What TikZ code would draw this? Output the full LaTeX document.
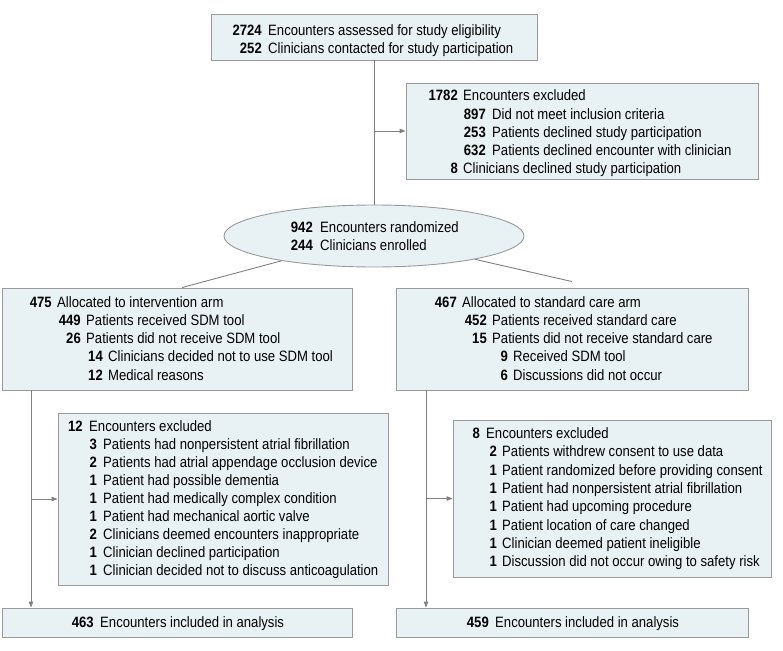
\documentclass[tikz,border=0pt]{standalone}
\usepackage{fontspec}
\setmainfont{Liberation Sans}[FakeStretch=0.875]
\usetikzlibrary{arrows.meta,shapes.geometric}
\definecolor{boxfill}{HTML}{E8F2F4}
\definecolor{boxline}{HTML}{9A9A9A}
\definecolor{connc}{HTML}{808080}
\tikzset{
  boxst/.style={draw=boxline,fill=boxfill,line width=0.9pt,inner sep=0pt},
  num/.style={font=\fontsize{15}{17}\selectfont\bfseries,inner sep=0pt,anchor=base east},
  txt/.style={font=\fontsize{15}{17}\selectfont,inner sep=0pt,anchor=base west},
  conn/.style={draw=connc,line width=0.9pt},
  arr/.style={conn,-{Triangle[length=6pt,width=4.5pt]}},
}
\newcommand\itm[6]{\node[num] (#1n) at (#2,#4) {#5}; \node[txt] (#1t) at (#3,#4) {#6};}
\newcommand\bx[5]{\node[boxst,minimum width={(#4-#2)*1pt},minimum height={(#5-#3)*1pt}] (#1) at ({(#2+#4)/2},{(#3+#5)/2}) {};}
\begin{document}
\begin{tikzpicture}[x=1pt,y=-1pt]
\useasboundingbox (0,0) rectangle (783,650);
% boxes
\bx{top}{211}{14}{537}{60}
\bx{excl}{406}{83}{758}{179}
\node[boxst,ellipse,minimum width=300pt,minimum height=62pt] (rand) at (374,236) {};
\bx{lb}{2}{288}{352}{390}
\bx{rb}{396}{288}{748}{390}
\bx{lex}{58}{413}{388}{585}
\bx{rex}{453}{420}{771}{577}
\bx{lbot}{2}{608}{352}{637}
\bx{rbot}{396}{608}{748}{637}
% connectors
\coordinate (j1) at (top.south |- excl.west);
\draw[conn] (top.south) -- (top.south |- rand.north);
\draw[arr] (j1) -- (excl.west);
\coordinate (lend) at ([xshift=5pt]lb.north);
\coordinate (rend) at ([yshift=6pt]rb.north);
\draw[conn] (rand.195) -- (lend);
\draw[conn] (rand.-13) -- (rend);
\coordinate (lvx) at (31,0);
\coordinate (rvx) at (426,0);
\draw[arr] (lb.south -| lvx) -- (lbot.north -| lvx);
\draw[arr] (lvx |- lex.west) -- (lex.west);
\draw[arr] (rb.south -| rvx) -- (rbot.north -| rvx);
\draw[arr] (rvx |- rex.west) -- (rex.west);
% texts
\itm{t1}{262}{268}{36}{2724}{Encounters assessed for study eligibility}
\itm{t2}{262}{268}{54}{252}{Clinicians contacted for study participation}
\itm{e1}{458}{463}{101}{1782}{Encounters excluded}
\itm{e2}{486}{492}{119}{897}{Did not meet inclusion criteria}
\itm{e3}{486}{492}{137}{253}{Patients declined study participation}
\itm{e4}{486}{492}{155}{632}{Patients declined encounter with clinician}
\itm{e5}{458}{463}{173}{8}{Clinicians declined study participation}
\itm{r1}{313}{320}{232}{942}{Encounters randomized}
\itm{r2}{313}{320}{250}{244}{Clinicians enrolled}
\itm{a1}{52}{57}{307}{475}{Allocated to intervention arm}
\itm{a2}{81}{86}{325.25}{449}{Patients received SDM tool}
\itm{a3}{81}{86}{343.5}{26}{Patients did not receive SDM tool}
\itm{a4}{103}{108}{361.75}{14}{Clinicians decided not to use SDM tool}
\itm{a5}{103}{108}{380}{12}{Medical reasons}
\itm{b1}{457}{462}{307}{467}{Allocated to standard care arm}
\itm{b2}{487}{492}{325.25}{452}{Patients received standard care}
\itm{b3}{487}{492}{343.5}{15}{Patients did not receive standard care}
\itm{b4}{508}{513}{361.75}{9}{Received SDM tool}
\itm{b5}{508}{513}{380}{6}{Discussions did not occur}
\itm{c1}{83}{89}{431}{12}{Encounters excluded}
\itm{c2}{97}{103}{449.1}{3}{Patients had nonpersistent atrial fibrillation}
\itm{c3}{97}{103}{467.2}{2}{Patients had atrial appendage occlusion device}
\itm{c4}{97}{103}{485.3}{1}{Patient had possible dementia}
\itm{c5}{97}{103}{503.4}{1}{Patient had medically complex condition}
\itm{c6}{97}{103}{521.5}{1}{Patient had mechanical aortic valve}
\itm{c7}{97}{103}{539.6}{2}{Clinicians deemed encounters inappropriate}
\itm{c8}{97}{103}{557.7}{1}{Clinician declined participation}
\itm{c9}{97}{103}{575.8}{1}{Clinician decided not to discuss anticoagulation}
\itm{d1}{480}{486}{438.5}{8}{Encounters excluded}
\itm{d2}{497}{502}{456.8}{2}{Patients withdrew consent to use data}
\itm{d3}{497}{502}{475.1}{1}{Patient randomized before providing consent}
\itm{d4}{497}{502}{493.4}{1}{Patient had nonpersistent atrial fibrillation}
\itm{d5}{497}{502}{511.7}{1}{Patient had upcoming procedure}
\itm{d6}{497}{502}{530}{1}{Patient location of care changed}
\itm{d7}{497}{502}{548.3}{1}{Clinician deemed patient ineligible}
\itm{d8}{497}{502}{566.6}{1}{Discussion did not occur owing to safety risk}
\itm{f1}{94}{100}{627}{463}{Encounters included in analysis}
\itm{f2}{489}{495}{627}{459}{Encounters included in analysis}
\end{tikzpicture}
\end{document}
